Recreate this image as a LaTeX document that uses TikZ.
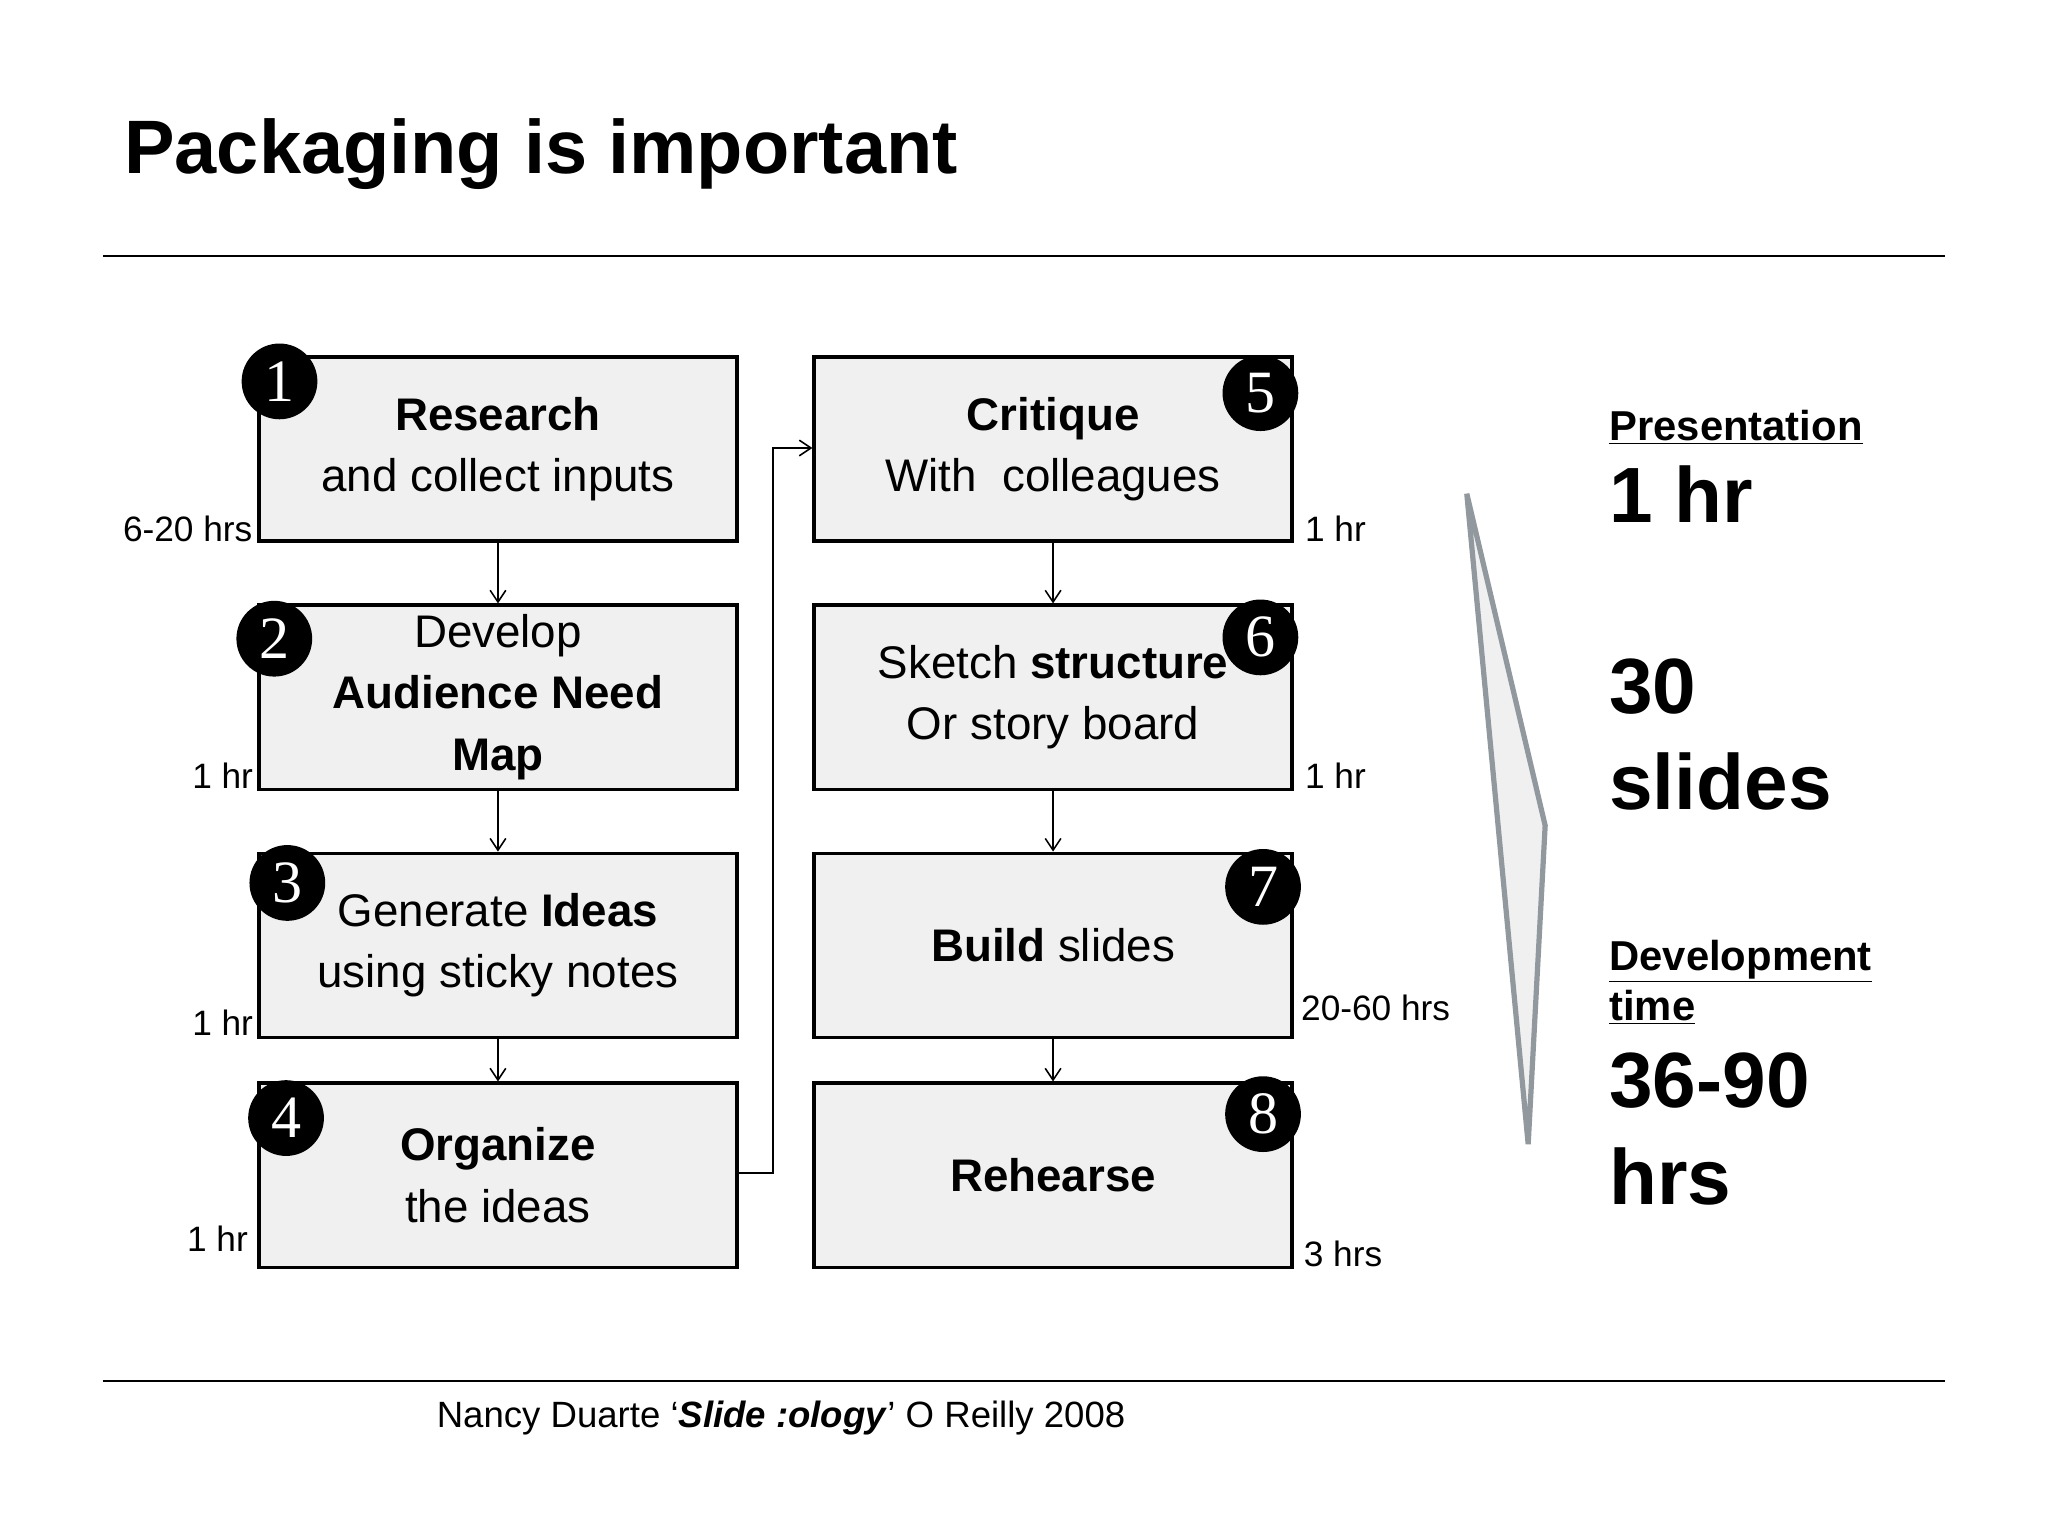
\documentclass[tikz,border=0pt]{standalone}
\usepackage{fontspec}
\setmainfont{Liberation Sans}
\newfontfamily\numfont{Liberation Serif}
\usetikzlibrary{arrows.meta}
\begin{document}
\begin{tikzpicture}[x=1pt,y=-1pt,
  stepbox/.style={draw=black,line width=2.5pt,fill=black!6,minimum width=366pt,minimum height=141pt,anchor=north west,align=center,font=\fontsize{35}{47}\selectfont,inner sep=0pt},
  num/.style={circle,fill=black,minimum size=58pt,inner sep=0pt,text=white,font=\numfont\fontsize{46}{46}\selectfont},
  hrs/.style={font=\fontsize{27}{30}\selectfont,inner sep=0pt},
  arr/.style={-{Straight Barb[length=9pt,width=12pt]},line width=1.2pt},
  big/.style={font=\bfseries\fontsize{60}{74}\selectfont,anchor=north west,align=left,inner sep=0pt},
  head/.style={font=\bfseries\fontsize{32}{38}\selectfont,anchor=north west,align=left,inner sep=0pt}]
\useasboundingbox[fill=white] (0,0) rectangle (1568,1176);
\node[font=\bfseries\fontsize{58}{60}\selectfont,anchor=west,inner sep=0pt] (title) at (95,118) {Packaging is important};
\draw[line width=1.5pt] (79,196) -- (1489,196);
\draw[line width=1.5pt] (79,1057) -- (1489,1057);
% left column
\node[stepbox] (b1) at (197,272) {\textbf{Research}\\and collect inputs};
\node[stepbox] (b2) at (197,462) {Develop\\\textbf{Audience Need}\\\textbf{Map}};
\node[stepbox] (b3) at (197,652) {Generate \textbf{Ideas}\\using sticky notes};
\node[stepbox] (b4) at (197,828) {\textbf{Organize}\\the ideas};
\node[stepbox] (b5) at (622,272) {\textbf{Critique}\\With\ \ colleagues};
\node[stepbox] (b6) at (622,462) {Sketch \textbf{structure}\\Or story board};
\node[stepbox] (b7) at (622,652) {\textbf{Build} slides};
\node[stepbox] (b8) at (622,828) {\textbf{Rehearse}};
\node[num] (n1) at (214,292) {1};
\node[num] (n2) at (210,489) {2};
\node[num] (n3) at (220,676) {3};
\node[num] (n4) at (219,856) {4};
\node[num] (n5) at (965,301) {5};
\node[num] (n6) at (965,488) {6};
\node[num] (n7) at (967,679) {7};
\node[num] (n8) at (967,853) {8};
\draw[arr] (b1.south) -- (b2.north);
\draw[arr] (b2.south) -- (b3.north);
\draw[arr] (b3.south) -- (b4.north);
\draw[arr] (b5.south) -- (b6.north);
\draw[arr] (b6.south) -- (b7.north);
\draw[arr] (b7.south) -- (b8.north);
\coordinate (c1) at (592,898);
\coordinate (c2) at (592,343);
\draw[arr] (b4.east |- c1) -- (c1) -- (c2) -- (b5.west |- c2);
% hours
\node[hrs,anchor=west] (h1) at (94,405) {6-20 hrs};
\node[hrs,anchor=west] (h2) at (147,594) {1 hr};
\node[hrs,anchor=west] (h3) at (147,783) {1 hr};
\node[hrs,anchor=west] (h4) at (143,948) {1 hr};
\node[hrs,anchor=west] (h5) at (999,405) {1 hr};
\node[hrs,anchor=west] (h6) at (999,594) {1 hr};
\node[hrs,anchor=west] (h7) at (996,772) {20-60 hrs};
\node[hrs,anchor=west] (h8) at (998,960) {3 hrs};
% triangle
\draw[draw=gray!60!cyan!40!black!60,line width=4pt,fill=black!6,line join=miter] (1123,378) -- (1183,632) -- (1170,876) -- cycle;
% right texts
\node[head] (p1) at (1232,314) {\underline{Presentation}};
\node[big] (p2) at (1232,356) {1 hr};
\node[big] (p3) at (1232,504) {30\\slides};
\node[head] (p4) at (1232,720) {\underline{Development}\\\underline{time}};
\node[big] (p5) at (1232,806) {36-90\\hrs};
\node[font=\fontsize{28}{30}\selectfont,inner sep=0pt] (foot) at (598,1086) {Nancy Duarte `\textbf{\textit{Slide :ology}}' O Reilly 2008};
\end{tikzpicture}
\end{document}
